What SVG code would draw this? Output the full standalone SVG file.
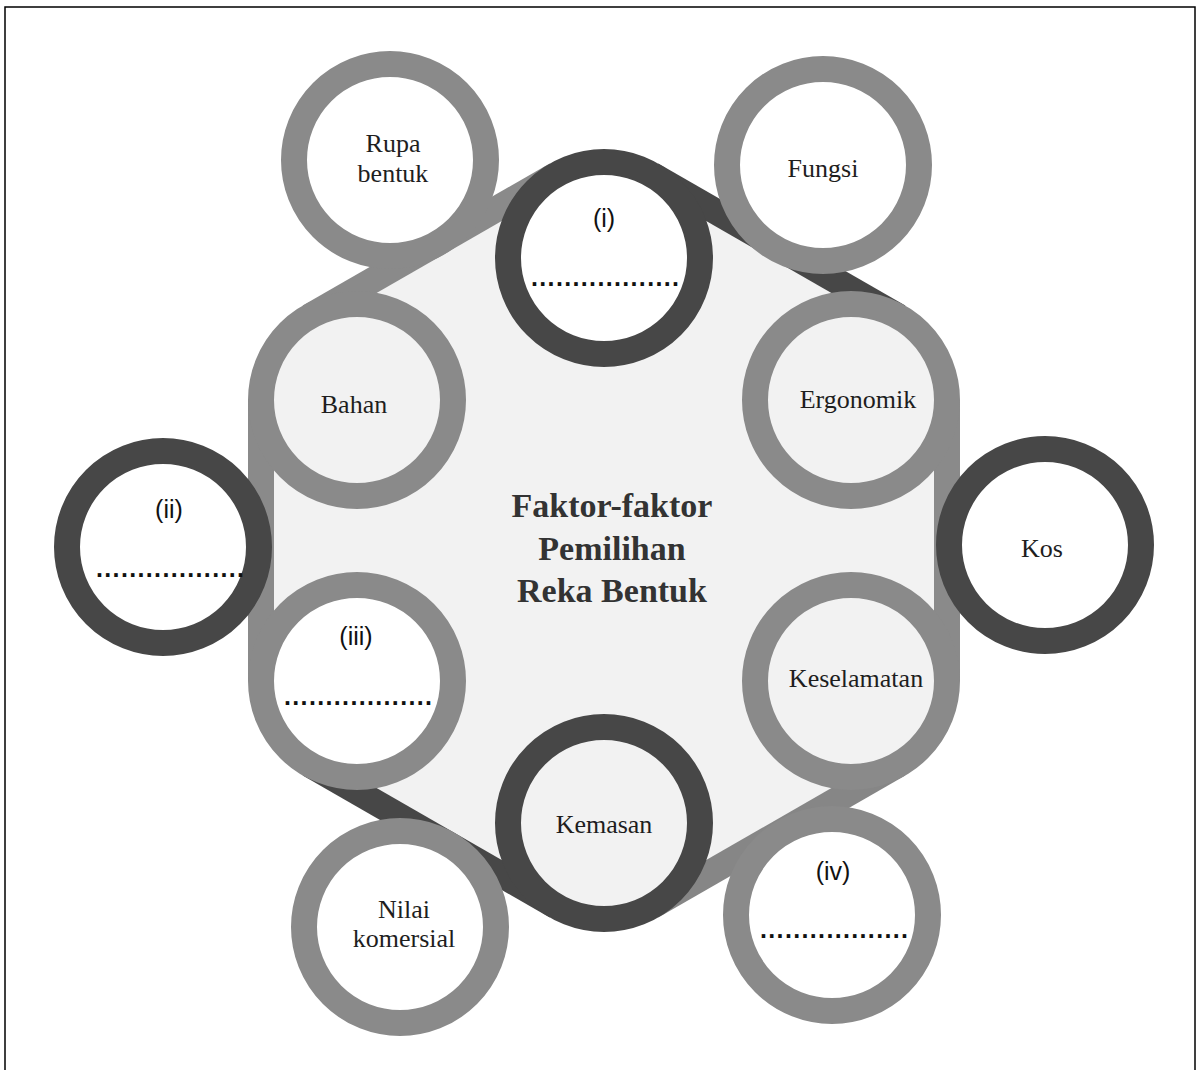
<svg xmlns="http://www.w3.org/2000/svg" width="1197" height="1070" viewBox="0 0 1197 1070">
<style>
.lbl{font-family:"Liberation Serif","DejaVu Serif",serif;font-size:26px;fill:#1e1e1e;text-anchor:middle}
.ttl{font-family:"Liberation Serif","DejaVu Serif",serif;font-size:34px;font-weight:bold;fill:#333;text-anchor:middle}
.num{font-family:"Liberation Sans","DejaVu Sans",sans-serif;font-size:25px;fill:#111;text-anchor:middle}
.dots{font-family:"Liberation Sans","DejaVu Sans",sans-serif;font-size:25px;font-weight:bold;fill:#111}
.light{stroke:#8a8a8a;stroke-width:26}
.dark{stroke:#474747;stroke-width:26}
.outer{fill:#ffffff}
.inner{fill:#f2f2f2}
.band{fill:none;stroke-width:26}
</style>
<rect x="5" y="7" width="1190" height="1075" fill="#ffffff" stroke="#000" stroke-width="1.5"/>
<g id="hexagon">
<path d="M556.15,174.77 A96 96 0 0 1 651.85,174.77 L898.85,316.77 A96 96 0 0 1 947,400 L947,681 A96 96 0 0 1 898.85,764.23 L651.85,906.23 A96 96 0 0 1 556.15,906.23 L309.15,764.23 A96 96 0 0 1 261,681 L261,400 A96 96 0 0 1 309.15,316.77 Z" fill="#f2f2f2"/>
</g>
<g id="connectors">
<path class="band" stroke="#8a8a8a" d="M309.15,316.77 L556.15,174.77"/>
<path class="band" stroke="#474747" d="M651.85,174.77 L898.85,316.77"/>
<path class="band" stroke="#8a8a8a" d="M947,400 L947,681"/>
<path class="band" stroke="#868686" d="M898.85,764.23 L651.85,906.23"/>
<path class="band" stroke="#474747" d="M556.15,906.23 L309.15,764.23"/>
<path class="band" stroke="#8a8a8a" d="M261,681 L261,400"/>
</g>
<g id="node-bahan"><circle cx="357" cy="400" r="96" class="light inner"/><text class="lbl" x="354" y="413">Bahan</text></g>
<g id="node-i"><circle cx="604" cy="258" r="96" class="dark outer"/><text class="num" x="604" y="227">(i)</text><text class="dots" x="531" y="286" textLength="148" lengthAdjust="spacing">..................</text></g>
<g id="node-ergonomik"><circle cx="851" cy="400" r="96" class="light inner"/><text class="lbl" x="858" y="408">Ergonomik</text></g>
<g id="node-keselamatan"><circle cx="851" cy="681" r="96" class="light inner"/><text class="lbl" x="856" y="687">Keselamatan</text></g>
<g id="node-kemasan"><circle cx="604" cy="823" r="96" class="dark inner"/><text class="lbl" x="604" y="833">Kemasan</text></g>
<g id="node-iii"><circle cx="357" cy="681" r="96" class="light outer"/><text class="num" x="356" y="645">(iii)</text><text class="dots" x="284" y="705" textLength="148" lengthAdjust="spacing">..................</text></g>
<g id="node-rupa-bentuk"><circle cx="390" cy="160" r="96" class="light outer"/><text class="lbl" x="393" y="152">Rupa</text><text class="lbl" x="393" y="182">bentuk</text></g>
<g id="node-fungsi"><circle cx="823" cy="165" r="96" class="light outer"/><text class="lbl" x="823" y="177">Fungsi</text></g>
<g id="node-ii"><circle cx="163" cy="547" r="96" class="dark outer"/><text class="num" x="169" y="518">(ii)</text><text class="dots" x="96" y="577" textLength="148" lengthAdjust="spacing">..................</text></g>
<g id="node-kos"><circle cx="1045" cy="545" r="96" class="dark outer"/><text class="lbl" x="1042" y="557">Kos</text></g>
<g id="node-nilai-komersial"><circle cx="400" cy="927" r="96" class="light outer"/><text class="lbl" x="404" y="918">Nilai</text><text class="lbl" x="404" y="947">komersial</text></g>
<g id="node-iv"><circle cx="832" cy="915" r="96" class="light outer"/><text class="num" x="833" y="880">(iv)</text><text class="dots" x="760" y="938" textLength="148" lengthAdjust="spacing">..................</text></g>
<g id="title">
<text class="ttl" x="612" y="517">Faktor-faktor</text>
<text class="ttl" x="612" y="560">Pemilihan</text>
<text class="ttl" x="612" y="602">Reka Bentuk</text>
</g>
</svg>
